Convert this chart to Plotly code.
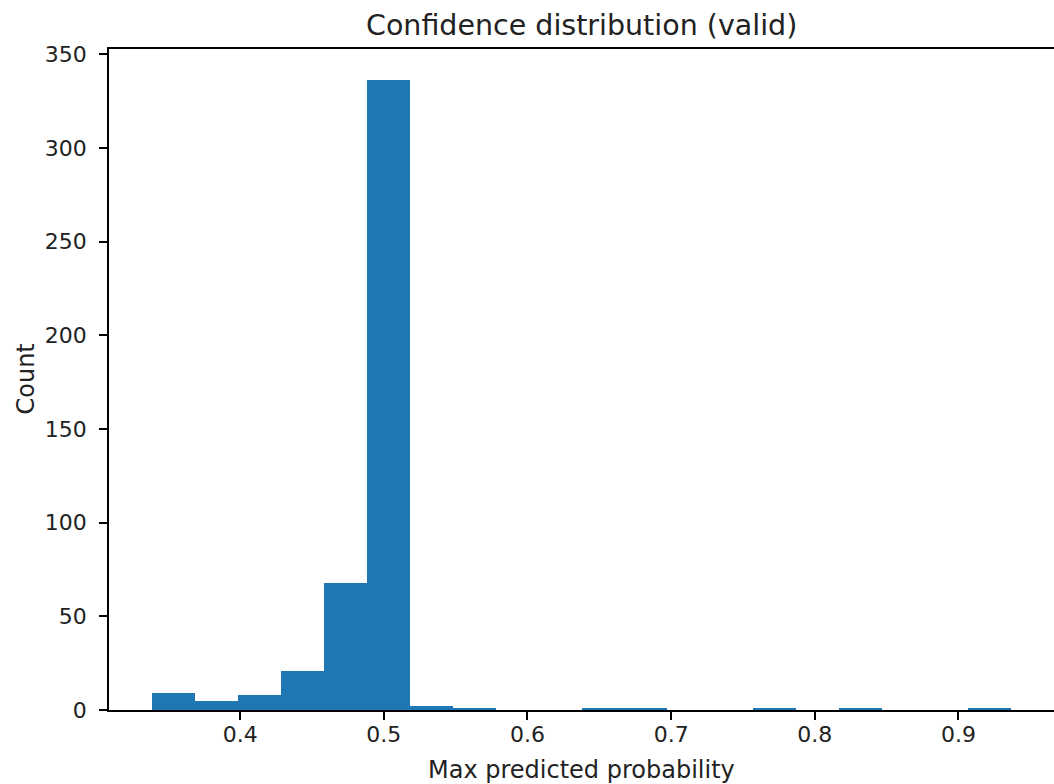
import plotly.graph_objects as go

# Histogram data (20 bins)
bin_edges = [0.3386, 0.3685, 0.3984, 0.4283, 0.4582, 0.4881, 0.5180, 0.5479,
             0.5778, 0.6077, 0.6376, 0.6675, 0.6974, 0.7273, 0.7572, 0.7871,
             0.8170, 0.8469, 0.8768, 0.9067, 0.9366]
counts = [9, 5, 8, 21, 68, 336, 2, 1, 0, 0, 1, 1, 0, 0, 1, 0, 1, 0, 0, 1]
x_ticks = [0.4, 0.5, 0.6, 0.7, 0.8, 0.9]
x_tick_labels = ["0.4", "0.5", "0.6", "0.7", "0.8", "0.9"]
y_ticks = [0, 50, 100, 150, 200, 250, 300, 350]

title_text = "Confidence distribution (valid)"
x_label = "Max predicted probability"
y_label = "Count"

centers = [(bin_edges[i] + bin_edges[i + 1]) / 2 for i in range(len(counts))]
widths = [bin_edges[i + 1] - bin_edges[i] for i in range(len(counts))]

FONT = "DejaVu Sans"
W, H = 1054, 784
ML, MR, MT, MB = 109, 0, 49, 74

fig = go.Figure()
fig.add_trace(go.Bar(
    x=centers, y=counts, width=widths,
    marker=dict(color="#1f77b4", line=dict(width=0)),
    hoverinfo="x+y",
))

span = bin_edges[-1] - bin_edges[0]
x_range = [bin_edges[0] - 0.05 * span, bin_edges[-1] + 0.05 * span]
y_range = [0, max(counts) * 1.05]

fig.update_layout(
    width=W, height=H,
    margin=dict(l=ML, r=MR, t=MT, b=MB, autoexpand=False),
    paper_bgcolor="white", plot_bgcolor="white",
    showlegend=False, bargap=0,
    font=dict(family=FONT, color="black", size=22),
    xaxis=dict(range=x_range, tickvals=x_ticks, ticktext=x_tick_labels,
               showgrid=False, zeroline=False, automargin=False,
               showline=True, linecolor="black", linewidth=1.8, mirror=True,
               ticks="outside", ticklen=8, tickwidth=1.8, tickcolor="black",
               ticklabelstandoff=-4,
               tickfont=dict(family=FONT, size=22, color="#222222")),
    yaxis=dict(range=y_range, tickvals=y_ticks,
               showgrid=False, zeroline=False, automargin=False,
               showline=True, linecolor="black", linewidth=1.8, mirror=False,
               ticks="outside", ticklen=8, tickwidth=1.8, tickcolor="black",
               ticklabelstandoff=8,
               tickfont=dict(family=FONT, size=22, color="#222222")),
    annotations=[
        dict(text=title_text, xref="paper", x=0.5, xanchor="center",
             yref="paper", y=1 + (MT - 25) / (H - MT - MB), yanchor="middle",
             showarrow=False, font=dict(family=FONT, size=28.5, color="#222222")),
        dict(text=x_label, xref="paper", x=0.5, xanchor="center",
             yref="paper", y=-(770 - (H - MB)) / (H - MT - MB), yanchor="middle",
             showarrow=False, font=dict(family=FONT, size=24, color="#222222")),
        dict(text=y_label, xref="paper", x=-(ML - 25) / (W - ML - MR), xanchor="center",
             yref="paper", y=0.5, yanchor="middle", textangle=-90,
             showarrow=False, font=dict(family=FONT, size=24, color="#222222")),
    ],
)

fig.write_html(
    "out.html",
    config={"displayModeBar": False},
    post_script="document.body.style.margin='0';document.body.style.overflow='hidden';",
)
